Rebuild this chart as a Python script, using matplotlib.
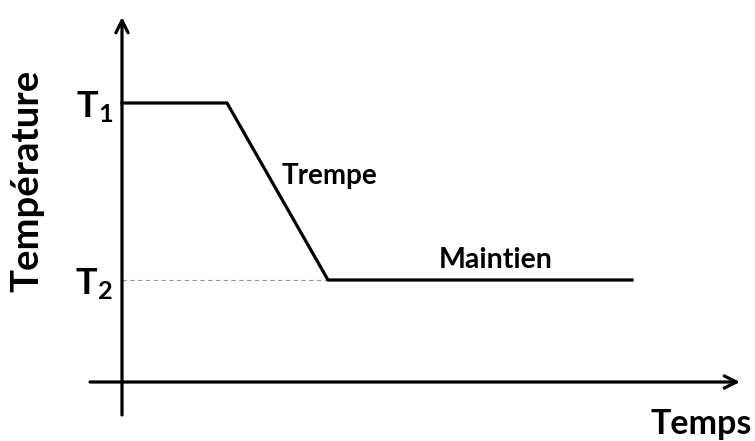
import matplotlib.pyplot as plt

plt.rcParams["font.family"] = ["Lato", "DejaVu Sans"]
plt.rcParams["mathtext.fontset"] = "custom"
plt.rcParams["mathtext.rm"] = "Lato:bold"
plt.rcParams["mathtext.it"] = "Lato:bold"
plt.rcParams["mathtext.bf"] = "Lato:bold"

# schematic quench cycle (arbitrary units)
time = [0.0, 1.05, 2.06, 5.10]
temperature = [2.79, 2.79, 1.02, 1.02]
T1 = 2.79
T2 = 1.02
level_labels = [r"$\mathrm{T}_1$", r"$\mathrm{T}_2$"]
stage_labels = ["Trempe", "Maintien"]

fig = plt.figure(figsize=(7.55, 4.41), dpi=100)
ax = fig.add_axes([0, 0, 1, 1])
ax.set_xlim(-1.22, 6.33)
ax.set_ylim(-0.59, 3.82)
ax.axis("off")

arrow = {"arrowstyle": "->", "lw": 2.3, "color": "black", "shrinkA": 0, "shrinkB": 0,
         "mutation_scale": 22}
ax.annotate("", xy=(6.18, 0), xytext=(-0.32, 0), arrowprops=arrow)
ax.annotate("", xy=(0, 3.65), xytext=(0, -0.33), arrowprops=arrow)

ax.plot([0, time[2]], [T2, T2], color="#999999", lw=0.8, ls=(0, (4, 3)), zorder=1)
ax.plot(time, temperature, color="black", lw=2.3, solid_joinstyle="miter", zorder=2)

for val, lab in zip([T1, T2], level_labels):
    ax.text(-0.09, val - 0.04, lab, ha="right", va="center", fontsize=26)

ax.text(1.60, 2.06, stage_labels[0], ha="left", va="center", fontsize=20, fontweight="bold")
ax.text(3.74, 1.22, stage_labels[1], ha="center", va="center", fontsize=20.5, fontweight="bold")

ax.text(-0.95, 2.01, "Température", rotation=90, ha="center", va="center",
        fontsize=27.5, fontweight="bold")
ax.text(6.30, -0.42, "Temps", ha="right", va="center", fontsize=24.5, fontweight="bold")

fig.savefig("out.png", dpi=100)
